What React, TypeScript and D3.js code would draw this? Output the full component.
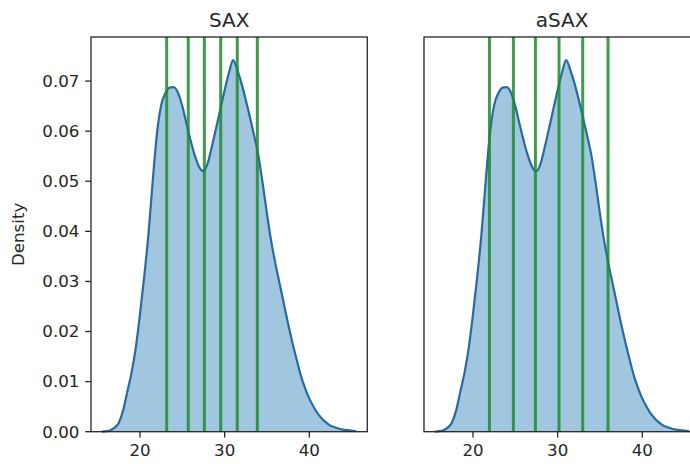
import React from "react";
import * as d3 from "d3";

const xs: number[] = [15.5,16,16.5,17,17.5,18,18.5,19,19.5,20,20.5,21,21.5,22,22.5,23,23.5,24,24.5,25,25.5,26,26.5,27,27.5,28,28.5,29,29.5,30,30.5,31,31.5,32,32.5,33,33.5,34,34.5,35,35.5,36,36.5,37,37.5,38,38.5,39,39.5,40,40.5,41,41.5,42,42.5,43,43.5,44,44.5,45,45.5];
const density: number[] = [0.0000,0.0001,0.0003,0.0008,0.0018,0.0042,0.0080,0.0118,0.0168,0.0235,0.0310,0.0395,0.0500,0.0595,0.0652,0.0676,0.0687,0.0688,0.0676,0.0650,0.0614,0.0580,0.0550,0.0528,0.0520,0.0536,0.0570,0.0607,0.0645,0.0682,0.0716,0.0742,0.0722,0.0695,0.0662,0.0627,0.0590,0.0550,0.0495,0.0435,0.0380,0.0335,0.0295,0.0255,0.0215,0.0178,0.0144,0.0112,0.0087,0.0066,0.0050,0.0036,0.0026,0.0018,0.0012,0.0009,0.0006,0.0004,0.0003,0.0002,0.0001];
const saxBreaks: number[] = [23.15, 25.7, 27.6, 29.53, 31.49, 33.86];
const asaxBreaks: number[] = [21.94, 24.77, 27.37, 30.16, 32.96, 35.95];
const yTicks: number[] = [0, 0.01, 0.02, 0.03, 0.04, 0.05, 0.06, 0.07];
const xTicks: number[] = [20, 30, 40];
const titles: string[] = ["SAX", "aSAX"];

const W = 690, H = 464;
const top = 37, bottom = 431.7;
const panelW = 276.3;
const lefts = [91, 424];
const font = "DejaVu Sans, sans-serif";
const ink = "#262626";

function Panel({ left, title, breaks, showY }: { left: number; title: string; breaks: number[]; showY: boolean }) {
  const x = d3.scaleLinear().domain([14.21, 46.85]).range([left, left + panelW]);
  const y = d3.scaleLinear().domain([0, 0.0788]).range([bottom, top]);
  const pts: [number, number][] = xs.map((v, i) => [v, density[i]]);
  const area = d3.area<[number, number]>().x(d => x(d[0])).y0(y(0)).y1(d => y(d[1])).curve(d3.curveMonotoneX);
  const line = d3.line<[number, number]>().x(d => x(d[0])).y(d => y(d[1])).curve(d3.curveMonotoneX);
  return (
    <g>
      <path d={area(pts) || ""} fill="#1f77b4" fillOpacity={0.42} />
      <path d={line(pts) || ""} fill="none" stroke="#2a6aa0" strokeWidth={2.2} />
      {breaks.map((b, i) => (
        <line key={i} x1={x(b)} x2={x(b)} y1={top} y2={bottom} stroke="#1e8a2e" strokeOpacity={0.85} strokeWidth={3} />
      ))}
      <rect x={left} y={top} width={panelW} height={bottom - top} fill="none" stroke={ink} strokeWidth={1.3} />
      {xTicks.map(t => (
        <g key={t}>
          <line x1={x(t)} x2={x(t)} y1={bottom} y2={bottom + 5.8} stroke={ink} strokeWidth={1.3} />
          <text x={x(t)} y={bottom + 11.6} dy="0.76em" textAnchor="middle" fontFamily={font} fontSize={16.67} fill={ink}>{t}</text>
        </g>
      ))}
      {showY && yTicks.map(t => (
        <g key={t}>
          <line x1={left - 5.8} x2={left} y1={y(t)} y2={y(t)} stroke={ink} strokeWidth={1.3} />
          <text x={left - 11.6} y={y(t)} dy="0.35em" textAnchor="end" fontFamily={font} fontSize={16.67} fill={ink}>{t.toFixed(2)}</text>
        </g>
      ))}
      <text x={left + panelW / 2} y={top - 10.5} textAnchor="middle" fontFamily={font} fontSize={20} fill={ink}>{title}</text>
    </g>
  );
}

export default function App() {
  return (
    <svg width={W} height={H} style={{ position: "absolute", left: 0, top: 0, background: "#fff" }}>
      <rect width={W} height={H} fill="#fff" />
      <Panel left={lefts[0]} title={titles[0]} breaks={saxBreaks} showY={true} />
      <Panel left={lefts[1]} title={titles[1]} breaks={asaxBreaks} showY={false} />
      <text transform={`translate(${24},${(top + bottom) / 2}) rotate(-90)`} textAnchor="middle" fontFamily={font} fontSize={16.67} fill={ink}>Density</text>
    </svg>
  );
}
